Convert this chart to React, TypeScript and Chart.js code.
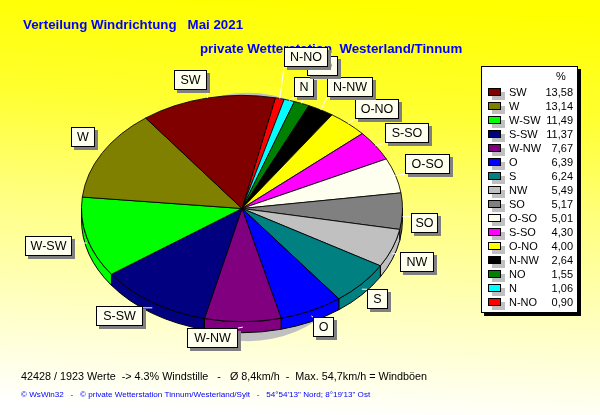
import React, { useEffect, useRef } from "react";
import { Chart, registerables } from "chart.js";

Chart.register(...registerables);

const categories = ["SW", "W", "W-SW", "S-SW", "W-NW", "O", "S", "NW", "SO", "O-SO", "S-SO", "O-NO", "N-NW", "NO", "N", "N-NO"];
const percentages = [13.58, 13.14, 11.49, 11.37, 7.67, 6.39, 6.24, 5.49, 5.17, 5.01, 4.3, 4.0, 2.64, 1.55, 1.06, 0.9];
const percentLabels = ["13,58", "13,14", "11,49", "11,37", "7,67", "6,39", "6,24", "5,49", "5,17", "5,01", "4,30", "4,00", "2,64", "1,55", "1,06", "0,90"];
const colors = ["#800000", "#808000", "#00ff00", "#000080", "#800080", "#0000ff", "#008080", "#c0c0c0", "#808080", "#fffff0", "#ff00ff", "#ffff00", "#000000", "#008000", "#00ffff", "#ff0000"];

const titleLine1 = "Verteilung Windrichtung   Mai 2021";
const titleLine2 = "private Wetterstation  Westerland/Tinnum";
const footerLine = "42428 / 1923 Werte  -> 4.3% Windstille   -   Ø 8,4km/h  -  Max. 54,7km/h = Windböen";
const creditLine = "© WsWin32   -   © private Wetterstation Tinnum/Westerland/Sylt   -   54°54'13\" Nord; 8°19'13\" Ost";

// Pie slices run clockwise from N-NO, the reverse of the sorted legend.
const sliceNames = [...categories].reverse();
const sliceValues = [...percentages].reverse();
const sliceColors = [...colors].reverse();

// Callout boxes: left, top, right, bottom.
const calloutBoxes: Record<string, number[]> = {
  SW: [174, 70, 207, 90],
  W: [71, 127, 95, 147],
  "W-SW": [25, 236, 72, 256],
  "S-SW": [96, 306, 143, 326],
  "W-NW": [187, 328, 238, 348],
  O: [313, 317, 334, 337],
  S: [367, 289, 388, 309],
  NW: [400, 252, 434, 272],
  SO: [411, 213, 438, 233],
  "O-SO": [405, 154, 450, 174],
  "S-SO": [385, 123, 429, 143],
  "O-NO": [355, 99, 399, 119],
  "N-NW": [327, 77, 373, 97],
  N: [294, 77, 314, 97],
  NO: [307, 56, 338, 76],
  "N-NO": [284, 47, 328, 67],
};
const calloutOrder = ["SW", "W", "W-SW", "S-SW", "W-NW", "O", "S", "NW", "SO", "O-SO", "S-SO", "O-NO", "N-NW", "N", "NO", "N-NO"];

const SQUASH = 0.705;
const DEPTH = 11;

const squashedPie = {
  id: "squashedPie",
  beforeDraw(chart: any) {
    const { ctx, width, height } = chart;
    const g = ctx.createLinearGradient(310, 0, 290, height);
    g.addColorStop(0, "#ffff00");
    g.addColorStop(0.25, "#ffff30");
    g.addColorStop(0.5, "#ffff80");
    g.addColorStop(0.75, "#ffffc0");
    g.addColorStop(1, "#ffffff");
    ctx.fillStyle = g;
    ctx.fillRect(0, 0, width, height);

    ctx.textBaseline = "middle";
    ctx.textAlign = "left";
    ctx.fillStyle = "#0000ff";
    ctx.font = "bold 13.3px 'Liberation Sans'";
    ctx.fillText(titleLine1, 23, 25.5);
    ctx.fillText(titleLine2, 200, 49.5);
    ctx.fillStyle = "#000000";
    ctx.font = "10.8px 'Liberation Sans'";
    ctx.fillText(footerLine, 21, 377.5);
    ctx.fillStyle = "#0000ff";
    ctx.font = "8.1px 'Liberation Sans'";
    ctx.fillText(creditLine, 21, 394.5);
  },
  beforeDatasetsDraw(chart: any) {
    const { ctx } = chart;
    const arcs = chart.getDatasetMeta(0).data;
    const cx = arcs[0].x;
    const cy = arcs[0].y;
    const r = arcs[0].outerRadius;
    const ry = r * SQUASH;

    ctx.save();
    ctx.fillStyle = "#c0c0c0";
    ctx.beginPath();
    ctx.ellipse(cx + 6, cy + 8.5, ry + 11, ry + 11, 0, 0, Math.PI * 2);
    ctx.fill();

    arcs.forEach((arc: any, i: number) => {
      const a0 = Math.max(arc.startAngle, 0);
      const a1 = Math.min(arc.endAngle, Math.PI);
      if (a1 <= a0) return;
      ctx.beginPath();
      ctx.ellipse(cx, cy, r, ry, 0, a0, a1);
      ctx.ellipse(cx, cy + DEPTH, r, ry, 0, a1, a0, true);
      ctx.closePath();
      ctx.fillStyle = sliceColors[i];
      ctx.fill();
      ctx.strokeStyle = "#000000";
      ctx.lineWidth = 1;
      ctx.stroke();
    });
    ctx.restore();

    ctx.save();
    ctx.translate(0, cy);
    ctx.scale(1, SQUASH);
    ctx.translate(0, -cy);
  },
  afterDatasetsDraw(chart: any) {
    const { ctx } = chart;
    ctx.restore();

    const arcs = chart.getDatasetMeta(0).data;
    const calloutFont = "12.5px 'Liberation Sans'";

    ctx.save();
    ctx.strokeStyle = "#ffffff";
    ctx.lineWidth = 1;
    arcs.forEach((arc: any, i: number) => {
      const box = calloutBoxes[sliceNames[i]];
      const mid = (arc.startAngle + arc.endAngle) / 2;
      const sx = arc.x + Math.cos(mid) * arc.outerRadius;
      const sy = arc.y + Math.sin(mid) * arc.outerRadius * SQUASH + (Math.sin(mid) > 0 ? DEPTH / 2 : 0);
      const ex = Math.min(Math.max(sx, box[0]), box[2]);
      const ey = Math.min(Math.max(sy, box[1]), box[3]);
      ctx.beginPath();
      ctx.moveTo(sx, sy);
      ctx.lineTo(ex, ey);
      ctx.stroke();
    });

    ctx.font = calloutFont;
    ctx.textAlign = "center";
    ctx.textBaseline = "middle";
    calloutOrder.forEach((name) => {
      const [l, t, r, b] = calloutBoxes[name];
      ctx.fillStyle = "#808080";
      ctx.fillRect(l + 3, t + 3, r - l, b - t);
      ctx.fillStyle = "#ffffee";
      ctx.fillRect(l, t, r - l, b - t);
      ctx.strokeStyle = "#000000";
      ctx.strokeRect(l + 0.5, t + 0.5, r - l - 1, b - t - 1);
      ctx.fillStyle = "#000000";
      ctx.fillText(name, (l + r) / 2, (t + b) / 2 + 0.5);
    });

    // Legend panel
    ctx.fillStyle = "#000000";
    ctx.fillRect(484, 69, 97, 247);
    ctx.fillStyle = "#ffffff";
    ctx.fillRect(481, 66, 97, 247);
    ctx.strokeStyle = "#000000";
    ctx.strokeRect(481.5, 66.5, 96, 246);
    ctx.font = "11px 'Liberation Sans'";
    ctx.textBaseline = "middle";
    ctx.textAlign = "left";
    ctx.fillStyle = "#000000";
    ctx.fillText("%", 556, 76.5);
    categories.forEach((name, i) => {
      const y = 88 + i * 14;
      ctx.fillStyle = "#c0c0c0";
      ctx.fillRect(492, y + 4, 13, 8);
      ctx.fillStyle = colors[i];
      ctx.fillRect(488, y, 13, 8);
      ctx.strokeStyle = "#000000";
      ctx.strokeRect(488.5, y + 0.5, 12, 7);
      ctx.fillStyle = "#000000";
      ctx.textAlign = "left";
      ctx.fillText(name, 509, y + 4.5);
      ctx.textAlign = "right";
      ctx.fillText(percentLabels[i], 573, y + 4.5);
    });
    ctx.restore();
  },
};

export default function App() {
  const ref = useRef<HTMLCanvasElement>(null);
  useEffect(() => {
    const chart = new Chart(ref.current as HTMLCanvasElement, {
      type: "pie",
      data: {
        labels: sliceNames,
        datasets: [
          {
            data: sliceValues,
            backgroundColor: sliceColors,
            borderColor: "#000000",
            borderWidth: 1,
            hoverOffset: 0,
          },
        ],
      },
      options: {
        responsive: false,
        animation: false,
        devicePixelRatio: 1,
        rotation: 12,
        layout: { padding: { left: 81, right: 197, top: 47.5, bottom: 45.5 } },
        plugins: { legend: { display: false }, tooltip: { enabled: false }, title: { display: false } },
      },
      plugins: [squashedPie],
    } as any);
    return () => chart.destroy();
  }, []);
  return (
    <div style={{ position: "absolute", left: 0, top: 0 }}>
      <canvas ref={ref} width={600} height={415} style={{ display: "block" }} />
    </div>
  );
}
